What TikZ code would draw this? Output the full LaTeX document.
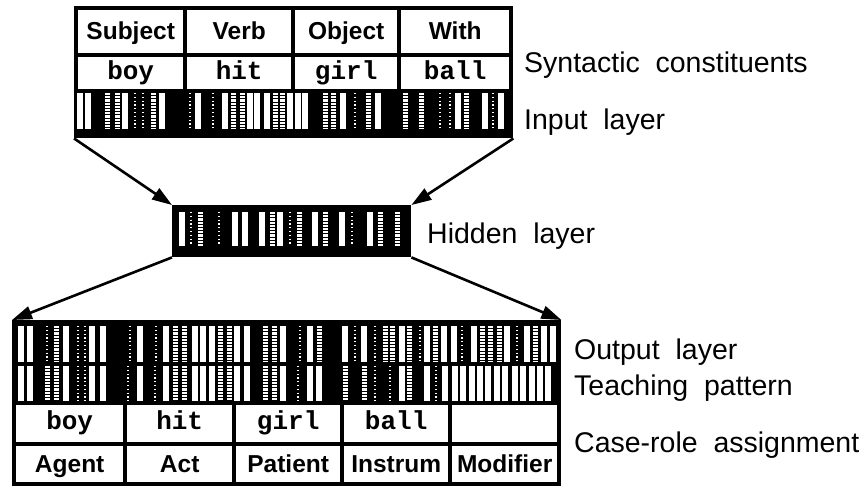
\documentclass[tikz,border=0pt]{standalone}
\usepackage{fontspec}
\setmainfont{Liberation Sans}
\newfontfamily\labfont[WordSpace=2]{Liberation Sans}
\newfontfamily\monof{Liberation Mono}
\usetikzlibrary{arrows.meta}
\tikzset{
  blk/.style={fill=black, draw=none, inner sep=0pt, anchor=north west},
  cellbox/.style={fill=white, draw=none, inner sep=0pt, anchor=north west},
  sansbold/.style={font=\fontsize{24.5}{27}\selectfont\bfseries, text height=17.5pt, text depth=1.5pt},
  monobold/.style={font=\monof\fontsize{26}{28}\selectfont\bfseries, text height=15pt, text depth=3pt},
  lab/.style={anchor=west, inner sep=0pt, font=\labfont\fontsize{28.5}{32}\selectfont},
  barW/.style={white, line width=5.5pt},
  barL/.style={white, line width=5pt, dash pattern=on 2.2pt off 1pt},
  barM/.style={white, line width=2.4pt, dash pattern=on 1.2pt off 2.6pt},
  arr/.style={line width=2.6pt, -{Triangle[length=20pt,width=13pt]}}
}
\begin{document}
\begin{tikzpicture}[x=1pt,y=-1pt]
\useasboundingbox (0,0) rectangle (865,491);
\fill[white] (0,0) rectangle (865,491);

% ---------- top box ----------
\node[blk, minimum width=439pt, minimum height=132pt] (top) at (74,6) {};
\node[cellbox, sansbold, minimum width=105pt, minimum height=43pt] (c1) at (78,10) {Subject};
\node[cellbox, sansbold, minimum width=104pt, minimum height=43pt] (c2) at (187,10) {Verb};
\node[cellbox, sansbold, minimum width=102pt, minimum height=43pt] (c3) at (295,10) {Object};
\node[cellbox, sansbold, minimum width=108pt, minimum height=43pt] (c4) at (401,10) {With};
\node[cellbox, monobold, minimum width=105pt, minimum height=32pt] (w1) at (78,57) {boy};
\node[cellbox, monobold, minimum width=104pt, minimum height=32pt] (w2) at (187,57) {hit};
\node[cellbox, monobold, minimum width=102pt, minimum height=32pt] (w3) at (295,57) {girl};
\node[cellbox, monobold, minimum width=108pt, minimum height=32pt] (w4) at (401,57) {ball};
\foreach \x/\t in {80/W,88/W,107/L,117/L,125/W,135/M,143/M,153/L,162/W,190/M,198/W,213/M,225/W,233/L,242/L,250/W,257/W,267/W,275/L,282/L,290/W,298/W,305/W,325/L,333/L,343/W,355/M,368/L,378/W,405/L,421/L,440/M,450/M,458/W,466/L,485/W,493/M,501/W}
  {\draw[bar\t] (\x,93) -- (\x,129);}

% ---------- hidden layer ----------
\node[blk, minimum width=239pt, minimum height=52pt] (hid) at (172,205) {};
\foreach \x/\t in {182/W,191/M,200/L,219/M,235/W,245/W,262/W,272/L,280/W,290/M,299/L,315/W,325/L,342/W,352/M,370/W,380/L,397/L}
  {\draw[bar\t] (\x,212) -- (\x,246);}

% ---------- bottom box ----------
\node[blk, minimum width=549pt, minimum height=166pt] (bot) at (12,320) {};
\foreach \x/\t in {21/W,30/W,47/M,56/L,66/W,78/M,85/M,92/W,103/W,130/M,140/W,156/M,166/W,175/L,184/L,195/W,203/W,212/W,220/L,229/L,237/W,247/W,265/L,274/L,283/W,300/M,310/W,319/L,345/W,355/M,364/W,375/M,385/L,392/L,402/W,409/L,420/M,427/W,435/L,444/W,454/W,462/M,474/W,482/L,490/L,499/L,507/W,517/M,527/W,535/L,544/W,553/W}
  {\draw[bar\t] (\x,326) -- (\x,362);}
\foreach \x/\t in {21/W,30/W,47/L,56/L,66/W,78/M,85/M,92/W,103/W,128/M,140/W,155/M,166/W,175/L,184/L,195/W,203/W,212/W,220/L,229/L,237/W,247/W,265/L,274/L,283/W,298/M,310/W,319/W,345/L,364/L,375/M,390/M,402/W,409/L,427/W,436/M,445/W,455/W,463/W,472/W,480/W,488/W,497/W,505/W,515/W,523/W,532/W,540/W,548/W}
  {\draw[bar\t] (\x,366) -- (\x,401);}
\node[cellbox, monobold, minimum width=107pt, minimum height=37pt] (r1) at (16,405) {boy};
\node[cellbox, monobold, minimum width=105pt, minimum height=37pt] (r2) at (127,405) {hit};
\node[cellbox, monobold, minimum width=104pt, minimum height=37pt] (r3) at (236,405) {girl};
\node[cellbox, monobold, minimum width=104pt, minimum height=37pt] (r4) at (344,405) {ball};
\node[cellbox, monobold, minimum width=105pt, minimum height=37pt] (r5) at (452,405) {};
\node[cellbox, sansbold, minimum width=107pt, minimum height=36pt] (k1) at (16,446) {Agent};
\node[cellbox, sansbold, minimum width=105pt, minimum height=36pt] (k2) at (127,446) {Act};
\node[cellbox, sansbold, minimum width=104pt, minimum height=36pt] (k3) at (236,446) {Patient};
\node[cellbox, sansbold, minimum width=104pt, minimum height=36pt] (k4) at (344,446) {Instrum};
\node[cellbox, sansbold, minimum width=105pt, minimum height=36pt] (k5) at (452,446) {Modifier};

% ---------- arrows ----------
\draw[arr] (top.south west) -- (hid.north west);
\draw[arr] (top.south east) -- (hid.north east);
\draw[arr] (hid.south west) -- (bot.north west);
\draw[arr] (hid.south east) -- (bot.north east);

% ---------- labels ----------
\node[lab] (l1) at (524,65) {Syntactic constituents};
\node[lab] (l2) at (524,122) {Input layer};
\node[lab] (l3) at (427,236) {Hidden layer};
\node[lab] (l4) at (574,352) {Output layer};
\node[lab] (l5) at (574,388) {Teaching pattern};
\node[lab] (l6) at (574,445) {Case-role assignment};
\end{tikzpicture}
\end{document}
